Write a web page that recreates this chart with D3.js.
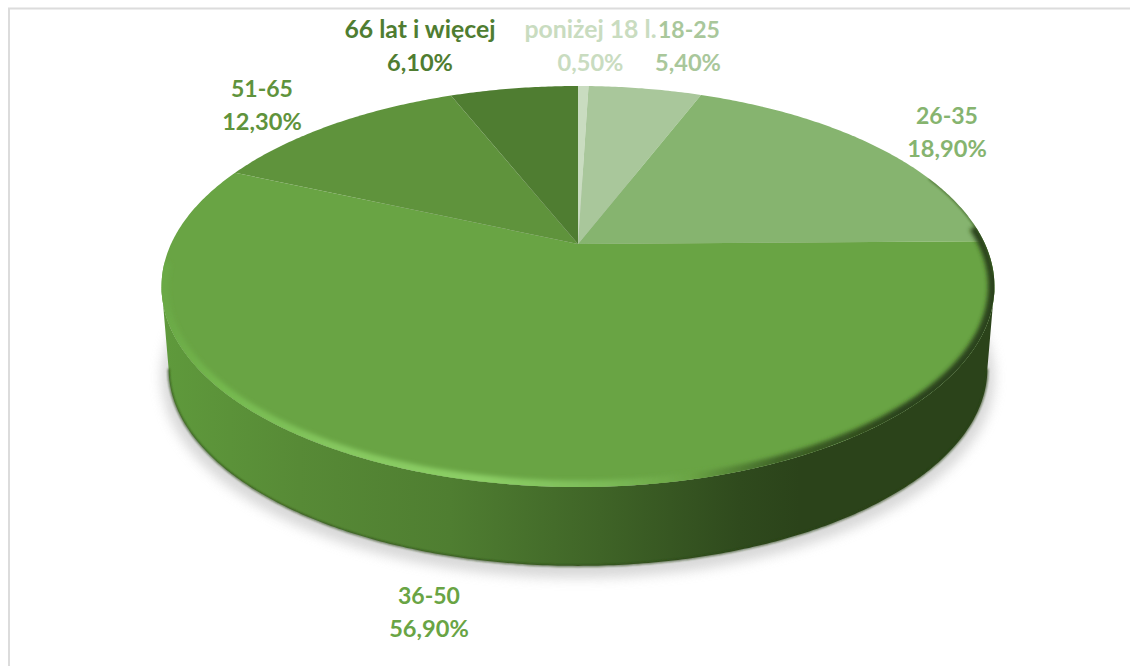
<!DOCTYPE html>
<html>
<head>
<meta charset="utf-8">
<script src="https://cdn.jsdelivr.net/npm/d3@7"></script>
<style>
  html, body { margin: 0; padding: 0; background: #fff; }
  svg { display: block; }
  text { font-family: Lato, "Open Sans", sans-serif; font-weight: 700; text-anchor: middle; }
</style>
</head>
<body>
<svg id="chart" width="1130" height="666"></svg>
<script>
const labels = ['poniżej 18 l.', '18-25', '26-35', '36-50', '51-65', '66 lat i więcej'];
const values = [0.5, 5.4, 18.9, 56.9, 12.3, 6.1];
const valueLabels = ['0,50%', '5,40%', '18,90%', '56,90%', '12,30%', '6,10%'];
const colours = ['#c9dcc0', '#a9c79b', '#86b46f', '#69a444', '#5f933c', '#4f7d31'];
const labelCentres = [[590.5, 30], [689, 30], [947, 116], [429, 596], [262, 89], [420, 30]];

const svg = d3.select('#chart');
const cx = 578, cy = 244;
const rx = 407, ry = 191.5, tilt = 0.212;
const depth = 83, bottomShrink = 0.983;

// circle in the plane of the pie, seen in perspective
function project(angle, offset = 0, shrink = 1) {
  const u = Math.sin(angle), v = Math.cos(angle);
  const w = 1 + tilt * v;
  return [cx + (shrink * rx * u) / w, cy + offset - (shrink * ry * v) / w];
}

const line = d3.line();
const pie = d3.pie().sort(null).value((d) => d);
const arcs = pie(values);

function steps(a0, a1) {
  const n = Math.max(2, Math.ceil(Math.abs(a1 - a0) / 0.01));
  return d3.range(n + 1).map((i) => a0 + ((a1 - a0) * i) / n);
}
function slicePath(d) {
  return line([[cx, cy], ...steps(d.startAngle, d.endAngle).map((a) => project(a))]) + 'Z';
}

const defs = svg.append('defs');
function blur(id, dev) {
  defs.append('filter').attr('id', id)
    .attr('x', '-10%').attr('y', '-10%').attr('width', '120%').attr('height', '120%')
    .append('feGaussianBlur').attr('stdDeviation', dev);
}
blur('shadowBlur', 6);
blur('rimBlur', 2);
blur('edgeBlur', 0.8);

function hGradient(id, stops) {
  const g = defs.append('linearGradient').attr('id', id)
    .attr('gradientUnits', 'userSpaceOnUse')
    .attr('x1', 160).attr('x2', 995).attr('y1', 0).attr('y2', 0);
  stops.forEach(([x, c]) => {
    g.append('stop').attr('offset', (x - 160) / 835).attr('stop-color', c);
  });
}
hGradient('wallFill', [[160, '#5f9a3c'], [300, '#578a36'], [450, '#4f7e31'], [600, '#3f6427'], [740, '#2f4a1d'], [800, '#2b431a'], [995, '#2b431a']]);
hGradient('rimStroke', [[160, '#6aa845'], [220, '#74b84e'], [340, '#86c860'], [480, '#8ccf66'], [600, '#7cbc58'], [690, '#6aa444'], [780, '#3f6427'], [900, '#2b431a'], [995, '#2b431a']]);

defs.append('clipPath').attr('id', 'faceClip')
  .append('path').attr('d', line(steps(0, 2 * Math.PI).map((a) => project(a))) + 'Z');

// frame, only the top and left sides show
svg.append('path').attr('d', 'M9,666V8.5H1130').attr('fill', 'none').attr('stroke', '#dcdcdc').attr('stroke-width', 2);

const fullCircle = steps(0, 2 * Math.PI);
const frontStart = Math.acos(-tilt), frontEnd = 2 * Math.PI - frontStart;
const front = steps(frontStart, frontEnd);

// soft shadow under the disc
svg.append('path')
  .attr('d', line(fullCircle.map((a) => project(a, depth + 8, 1))) + 'Z')
  .attr('fill', '#cfcfcf')
  .attr('opacity', 0.8)
  .attr('filter', 'url(#shadowBlur)');

// side wall belongs to the 36-50 slice
svg.append('path')
  .attr('d', line([...front.map((a) => project(a)), ...front.slice().reverse().map((a) => project(a, depth, bottomShrink))]) + 'Z')
  .attr('fill', 'url(#wallFill)');

svg.append('path')
  .attr('d', line(front.map((a) => project(a, depth, bottomShrink))))
  .attr('fill', 'none')
  .attr('stroke', '#2c4519')
  .attr('stroke-width', 1.5)
  .attr('filter', 'url(#edgeBlur)');

// top face
svg.append('g').selectAll('path')
  .data(arcs)
  .join('path')
  .attr('d', slicePath)
  .attr('fill', (d, i) => colours[i]);

// bevel along the front edge of the face
const rim = svg.append('g').attr('clip-path', 'url(#faceClip)');
rim.append('path')
  .attr('d', line(steps(Math.PI * 0.47, Math.PI * 1.47).map((a) => project(a))))
  .attr('fill', 'none')
  .attr('stroke', 'url(#rimStroke)')
  .attr('stroke-width', 13)
  .attr('filter', 'url(#rimBlur)');
rim.append('path')
  .attr('d', line(steps(Math.PI * 0.38, Math.PI * 0.55).map((a) => project(a))))
  .attr('fill', 'none')
  .attr('stroke', '#3f6427')
  .attr('stroke-width', 2.5)
  .attr('opacity', 0.7)
  .attr('filter', 'url(#edgeBlur)');

// labels
const labelGroup = svg.append('g').selectAll('g')
  .data(labels)
  .join('g')
  .attr('fill', (d, i) => colours[i]);
labelGroup.append('text')
  .attr('x', (d, i) => labelCentres[i][0])
  .attr('y', (d, i) => labelCentres[i][1] + 8)
  .attr('font-size', (d) => (/[a-z]/.test(d) ? 24.8 : 23))
  .text((d) => d);
labelGroup.append('text')
  .attr('x', (d, i) => labelCentres[i][0] + (i === 1 ? -1 : 0))
  .attr('y', (d, i) => labelCentres[i][1] + 41)
  .attr('font-size', 23.6)
  .text((d, i) => valueLabels[i]);
</script>
</body>
</html>
